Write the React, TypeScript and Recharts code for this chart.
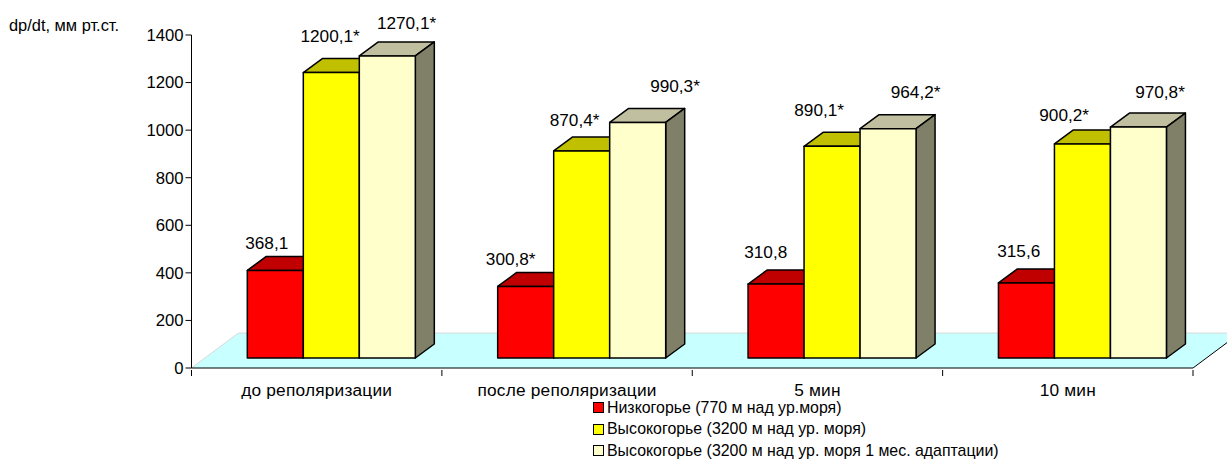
import { BarChart, Bar, XAxis, YAxis, Legend, LabelList, ReferenceArea } from "recharts"

const categories = ["до реполяризации", "после реполяризации", "5 мин", "10 мин"]
const lowland = [368.1, 300.8, 310.8, 315.6]
const highland = [1200.1, 870.4, 890.1, 900.2]
const adapted = [1270.1, 990.3, 964.2, 970.8]
const lowlandText = ["368,1", "300,8*", "310,8", "315,6"]
const highlandText = ["1200,1*", "870,4*", "890,1*", "900,2*"]
const adaptedText = ["1270,1*", "990,3*", "964,2*", "970,8*"]
const yTicks = [0, 200, 400, 600, 800, 1000, 1200, 1400]
const seriesNames = [
  "Низкогорье (770 м над ур.моря)",
  "Высокогорье (3200 м над ур. моря)",
  "Высокогорье (3200 м над ур. моря 1 мес. адаптации)",
]

const chartData = categories.map((name, i) => ({
  name,
  lowland: lowland[i],
  highland: highland[i],
  adapted: adapted[i],
}))

const FONT = "'Liberation Sans', Arial, sans-serif"
// the front faces sit forward of the axis plane, like in an Excel 3D chart
const SHIFT_X = 14
const SHIFT_Y = -10
const DEPTH_X = 19
const DEPTH_Y = 14
const PLOT_WIDTH = 1001.5

function Bar3D({ x, y, width, height, fill, topFill, sideFill }: any) {
  const left = x + SHIFT_X
  const top = y + SHIFT_Y
  const right = left + width
  const bottom = top + height
  return (
    <g stroke="#000" strokeWidth={1.5} strokeLinejoin="round">
      <path
        d={`M${left},${top} L${left + DEPTH_X},${top - DEPTH_Y} L${right + DEPTH_X},${top - DEPTH_Y} L${right},${top} Z`}
        fill={topFill}
      />
      <path
        d={`M${right},${top} L${right + DEPTH_X},${top - DEPTH_Y} L${right + DEPTH_X},${bottom - DEPTH_Y} L${right},${bottom} Z`}
        fill={sideFill}
      />
      <rect x={left} y={top} width={width} height={height} fill={fill} />
    </g>
  )
}

function Floor({ x, y, width, height }: any) {
  const bottom = y + height
  const dx = (height * 47) / 35
  return (
    <g>
      <path d={`M${x},${bottom} L${x + dx},${y} L${x + width + dx},${y} L${x + width},${bottom} Z`} fill="#c8ffff" />
      <path d={`M${x},${bottom} L${x + dx},${y} L${x + width + dx},${y}`} fill="none" stroke="#d8d8d8" strokeWidth={1} />
      <path d={`M${x + width},${bottom} L${x + width + dx},${y}`} fill="none" stroke="#000" strokeWidth={1} />
    </g>
  )
}

// ticks go on the category boundaries, labels stay in the middle; y here is already 6px below the axis
function CategoryTick({ x, y, payload, index }: any) {
  const band = PLOT_WIDTH / categories.length
  return (
    <g>
      <line x1={x - band / 2} y1={y - 6} x2={x - band / 2} y2={y} stroke="#000" />
      {index === categories.length - 1 && <line x1={x + band / 2} y1={y - 6} x2={x + band / 2} y2={y} stroke="#000" />}
      <text x={x} y={y + 20} textAnchor="middle" fontSize={17.3} letterSpacing={0.2} fontFamily={FONT} fill="#000">
        {payload.value}
      </text>
    </g>
  )
}

// data labels were dragged by hand in the original, so each has its own nudge
const labelNudge = (texts: string[], nudges: number[][]) =>
  function BarLabel({ x, y, width, index }: any) {
    return (
      <text
        x={x + SHIFT_X + width / 2 + nudges[index][0]}
        y={y + SHIFT_Y + nudges[index][1]}
        textAnchor="middle"
        fontSize={17.2}
        fontFamily={FONT}
        fill="#000"
      >
        {texts[index]}
      </text>
    )
  }

const LowLabel = labelNudge(lowlandText, [[-8.6, -21.4], [-15, -21.5], [-10.3, -26.1], [-7.7, -26]])
const HighLabel = labelNudge(highlandText, [[-1.2, -30.5], [-7.1, -25], [-12.9, -30.3], [-18.3, -23.2]])
const AdaptedLabel = labelNudge(adaptedText, [[19.2, -26.9], [37.3, -30.5], [27.5, -31], [21.6, -28.8]])

function LegendBox({ payload }: any) {
  return (
    <div style={{ fontFamily: FONT, fontSize: 15.9, color: "#000" }}>
      {payload.map((item: any) => (
        <div key={item.value} style={{ display: "flex", alignItems: "center", height: 21.5 }}>
          <span
            style={{
              width: 9,
              height: 9,
              background: item.color,
              border: "1.5px solid #000",
              marginRight: 3,
            }}
          />
          {item.value}
        </div>
      ))}
    </div>
  )
}

export default function App() {
  return (
    <div style={{ position: "absolute", left: 0, top: 0, width: 1227, height: 459, overflow: "hidden" }}>
      <div style={{ position: "absolute", left: 9, top: 16, fontFamily: FONT, fontSize: 16.4, color: "#000" }}>
        dp/dt, мм рт.ст.
      </div>
      <BarChart
        width={1227}
        height={459}
        data={chartData}
        margin={{ top: 35, right: 34, bottom: 61, left: 0 }}
        barCategoryGap="16.7%"
        barGap={0}
      >
        <ReferenceArea y1={0} y2={147} shape={<Floor />} ifOverflow="visible" />
        <XAxis
          dataKey="name"
          height={30}
          interval={0}
          axisLine={{ stroke: "#000" }}
          tickLine={false}
          tick={<CategoryTick />}
        />
        <YAxis
          width={191.5}
          domain={[0, 1400]}
          ticks={yTicks}
          interval={0}
          axisLine={{ stroke: "#000" }}
          tickLine={{ stroke: "#000" }}
          tickSize={6}
          tickMargin={2}
          tick={{ fontSize: 16.7, fontFamily: FONT, fill: "#000" }}
        />
        <Legend
          content={<LegendBox />}
          layout="vertical"
          verticalAlign="middle"
          align="center"
          itemSorter={null}
          wrapperStyle={{ left: 593, top: 397, width: 500 }}
        />
        <Bar
          dataKey="lowland"
          name={seriesNames[0]}
          fill="#ff0000"
          isAnimationActive={false}
          shape={<Bar3D topFill="#c00000" sideFill="#800000" />}
        >
          <LabelList content={<LowLabel />} />
        </Bar>
        <Bar
          dataKey="highland"
          name={seriesNames[1]}
          fill="#ffff00"
          isAnimationActive={false}
          shape={<Bar3D topFill="#c0c000" sideFill="#808000" />}
        >
          <LabelList content={<HighLabel />} />
        </Bar>
        <Bar
          dataKey="adapted"
          name={seriesNames[2]}
          fill="#ffffcc"
          isAnimationActive={false}
          shape={<Bar3D topFill="#c0c0a0" sideFill="#808068" />}
        >
          <LabelList content={<AdaptedLabel />} />
        </Bar>
      </BarChart>
    </div>
  )
}
